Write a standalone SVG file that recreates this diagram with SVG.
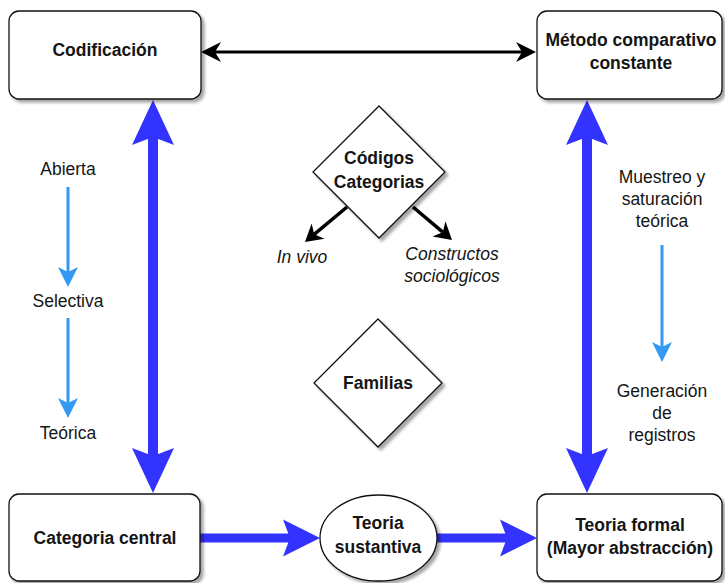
<svg xmlns="http://www.w3.org/2000/svg" width="725" height="583" viewBox="0 0 725 583">
<style>
.box{fill:#fff;stroke:#111;stroke-width:1.3;filter:url(#sh)}
.t{font-family:"Liberation Sans",Arial,sans-serif;font-size:17.5px;fill:#151515;text-anchor:middle}
.b{font-weight:bold}
.i{font-style:italic}
.big{stroke:#3333ff;stroke-width:10;fill:none}
.mid{stroke:#3333ff;stroke-width:9;fill:none}
.lb{stroke:#3399f3;stroke-width:3;fill:none}
.blk{stroke:#000;stroke-width:3;fill:none}
.dg{stroke:#000;stroke-width:3.5;fill:none}
</style>
<defs>
<filter id="sh" x="-10%" y="-10%" width="125%" height="130%">
<feGaussianBlur in="SourceAlpha" stdDeviation="1.5"/>
<feOffset dx="2.5" dy="3" result="o"/>
<feComponentTransfer><feFuncA type="linear" slope="0.35"/></feComponentTransfer>
<feMerge><feMergeNode/><feMergeNode in="SourceGraphic"/></feMerge>
</filter>
<marker id="mBig" markerUnits="userSpaceOnUse" viewBox="-46 -22 47 44" refX="-37" refY="0" markerWidth="47" markerHeight="44" orient="auto-start-reverse"><path d="M0,0 L-45,-21 L-37,0 L-45,21 Z" fill="#3333ff"/></marker>
<marker id="mMid" markerUnits="userSpaceOnUse" viewBox="-38 -20 39 40" refX="-30" refY="0" markerWidth="39" markerHeight="40" orient="auto"><path d="M0,0 L-37,-18.5 L-30,0 L-37,18.5 Z" fill="#3333ff"/></marker>
<marker id="mLb" markerUnits="userSpaceOnUse" viewBox="-21 -11 22 22" refX="-15" refY="0" markerWidth="22" markerHeight="22" orient="auto"><path d="M0,0 L-20,-10 L-15,0 L-20,10 Z" fill="#3399f3"/></marker>
<marker id="mBlk" markerUnits="userSpaceOnUse" viewBox="-21 -11 22 22" refX="-14" refY="0" markerWidth="22" markerHeight="22" orient="auto-start-reverse"><path d="M0,0 L-20,-10 L-14,0 L-20,10 Z" fill="#000"/></marker>
<marker id="mDg" markerUnits="userSpaceOnUse" viewBox="-19 -11 20 22" refX="-12" refY="0" markerWidth="20" markerHeight="22" orient="auto"><path d="M0,0 L-17,-10 L-12,0 L-17,10 Z" fill="#000"/></marker>
</defs>

<g id="connectors">
<line class="blk" x1="215" y1="52" x2="522" y2="52" marker-start="url(#mBlk)" marker-end="url(#mBlk)"/>
<line class="big" x1="153" y1="137" x2="153" y2="456" marker-start="url(#mBig)" marker-end="url(#mBig)"/>
<line class="big" x1="587" y1="137" x2="587" y2="456" marker-start="url(#mBig)" marker-end="url(#mBig)"/>
<line class="mid" x1="200" y1="538" x2="290" y2="538" marker-end="url(#mMid)"/>
<line class="mid" x1="437" y1="538" x2="507" y2="538" marker-end="url(#mMid)"/>
<line class="lb" x1="68" y1="187" x2="68" y2="272" marker-end="url(#mLb)"/>
<line class="lb" x1="68" y1="318" x2="68" y2="403" marker-end="url(#mLb)"/>
<line class="lb" x1="662" y1="245" x2="662" y2="347" marker-end="url(#mLb)"/>
<line class="dg" x1="347" y1="207" x2="314.2" y2="234.3" marker-end="url(#mDg)"/>
<line class="dg" x1="413" y1="207" x2="442.8" y2="232.2" marker-end="url(#mDg)"/>
</g>

<g id="codificacion">
<rect class="box" x="9" y="11" width="192" height="88" rx="10"/>
<text class="t b" x="105" y="56">Codificación</text>
</g>
<g id="metodo">
<rect class="box" x="537" y="11" width="185" height="88" rx="10"/>
<text class="t b" x="631" y="46">Método comparativo</text>
<text class="t b" x="631" y="69">constante</text>
</g>
<g id="categoria-central">
<rect class="box" x="9" y="494" width="191" height="87" rx="10"/>
<text class="t b" x="105" y="544">Categoria central</text>
</g>
<g id="teoria-formal">
<rect class="box" x="537" y="494" width="185" height="87" rx="10"/>
<text class="t b" x="630" y="531">Teoria formal</text>
<text class="t b" x="630" y="554">(Mayor abstracción)</text>
</g>
<g id="teoria-sustantiva">
<ellipse class="box" cx="378.5" cy="538" rx="58.5" ry="43"/>
<text class="t b" x="378" y="529">Teoria</text>
<text class="t b" x="378" y="553">sustantiva</text>
</g>
<g id="codigos">
<polygon class="box" points="379,106 445,172 379,238 313,172"/>
<text class="t b" x="379" y="164">Códigos</text>
<text class="t b" x="379" y="188">Categorias</text>
</g>
<g id="familias">
<polygon class="box" points="378,319 442,383 378,447 314,383"/>
<text class="t b" x="378" y="389">Familias</text>
</g>
<g id="in-vivo"><text class="t i" x="302" y="263">In vivo</text></g>
<g id="constructos">
<text class="t i" x="452" y="260">Constructos</text>
<text class="t i" x="452" y="282">sociológicos</text>
</g>
<g id="abierta"><text class="t" x="68" y="175">Abierta</text></g>
<g id="selectiva"><text class="t" x="68" y="307">Selectiva</text></g>
<g id="teorica"><text class="t" x="68" y="439">Teórica</text></g>
<g id="muestreo">
<text class="t" x="662" y="183">Muestreo y</text>
<text class="t" x="662" y="205">saturación</text>
<text class="t" x="662" y="227">teórica</text>
</g>
<g id="generacion">
<text class="t" x="662" y="397">Generación</text>
<text class="t" x="662" y="419">de</text>
<text class="t" x="662" y="441">registros</text>
</g>
</svg>
